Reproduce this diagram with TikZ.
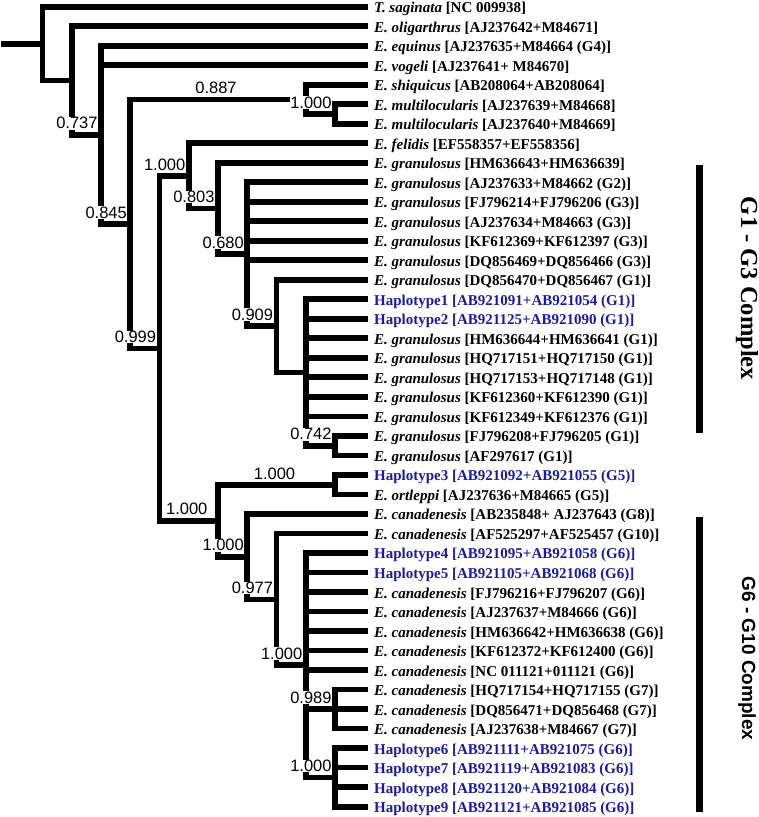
\documentclass[tikz,border=0pt]{standalone}
\usepackage{fontspec}
\setmainfont{Liberation Serif}
\setsansfont{Liberation Sans}
\newfontfamily\groupsans{Liberation Sans}
\usetikzlibrary{calc}
\definecolor{HapBlue}{HTML}{1A1AA6}
\newcommand{\taxon}[2]{\textit{#1} [#2]}
\newcommand{\hap}[2]{\textcolor{HapBlue}{Haplotype#1 [#2]}}
\tikzset{
  branch/.style={line width=5.8pt, line join=miter},
  leaf/.style={anchor=west, inner xsep=6pt, inner ysep=0pt, text height=12pt,
    text depth=0pt, font=\fontsize{15}{18}\selectfont\bfseries},
  support/.style={fill=white, inner sep=0.5pt, font=\sffamily\fontsize{16.5}{18}\selectfont},
  short/.style={anchor=south east, xshift=-2.7pt, yshift=5pt},
  long/.style={anchor=south, xshift=-2pt, yshift=5pt},
  bar/.style={line width=6.5pt},
  group/.style={rotate=-90, inner sep=0pt}
}

\begin{document}
\begin{tikzpicture}[x=1pt, y=-1pt]
  \useasboundingbox (0,0) rectangle (759,817);

  % tips, one row each
  \foreach \lab [count=\i from 0] in {
    {\taxon{T. saginata}{NC 009938}},
    {\taxon{E. oligarthrus}{AJ237642+M84671}},
    {\taxon{E. equinus}{AJ237635+M84664 (G4)}},
    {\taxon{E. vogeli}{AJ237641+ M84670}},
    {\taxon{E. shiquicus}{AB208064+AB208064}},
    {\taxon{E. multilocularis}{AJ237639+M84668}},
    {\taxon{E. multilocularis}{AJ237640+M84669}},
    {\taxon{E. felidis}{EF558357+EF558356}},
    {\taxon{E. granulosus}{HM636643+HM636639}},
    {\taxon{E. granulosus}{AJ237633+M84662 (G2)}},
    {\taxon{E. granulosus}{FJ796214+FJ796206 (G3)}},
    {\taxon{E. granulosus}{AJ237634+M84663 (G3)}},
    {\taxon{E. granulosus}{KF612369+KF612397 (G3)}},
    {\taxon{E. granulosus}{DQ856469+DQ856466 (G3)}},
    {\taxon{E. granulosus}{DQ856470+DQ856467 (G1)}},
    {\hap{1}{AB921091+AB921054 (G1)}},
    {\hap{2}{AB921125+AB921090 (G1)}},
    {\taxon{E. granulosus}{HM636644+HM636641 (G1)}},
    {\taxon{E. granulosus}{HQ717151+HQ717150 (G1)}},
    {\taxon{E. granulosus}{HQ717153+HQ717148 (G1)}},
    {\taxon{E. granulosus}{KF612360+KF612390 (G1)}},
    {\taxon{E. granulosus}{KF612349+KF612376 (G1)}},
    {\taxon{E. granulosus}{FJ796208+FJ796205 (G1)}},
    {\taxon{E. granulosus}{AF297617 (G1)}},
    {\hap{3}{AB921092+AB921055 (G5)}},
    {\taxon{E. ortleppi}{AJ237636+M84665 (G5)}},
    {\taxon{E. canadenesis}{AB235848+ AJ237643 (G8)}},
    {\taxon{E. canadenesis}{AF525297+AF525457 (G10)}},
    {\hap{4}{AB921095+AB921058 (G6)}},
    {\hap{5}{AB921105+AB921068 (G6)}},
    {\taxon{E. canadenesis}{FJ796216+FJ796207 (G6)}},
    {\taxon{E. canadenesis}{AJ237637+M84666 (G6)}},
    {\taxon{E. canadenesis}{HM636642+HM636638 (G6)}},
    {\taxon{E. canadenesis}{KF612372+KF612400 (G6)}},
    {\taxon{E. canadenesis}{NC 011121+011121 (G6)}},
    {\taxon{E. canadenesis}{HQ717154+HQ717155 (G7)}},
    {\taxon{E. canadenesis}{DQ856471+DQ856468 (G7)}},
    {\taxon{E. canadenesis}{AJ237638+M84667 (G7)}},
    {\hap{6}{AB921111+AB921075 (G6)}},
    {\hap{7}{AB921119+AB921083 (G6)}},
    {\hap{8}{AB921120+AB921084 (G6)}},
    {\hap{9}{AB921121+AB921085 (G6)}}}
    \node[leaf] (t\i) at (368, {6.7+19.51*\i}) {\lab};

  % internal nodes (y = middle of first and last child)
  \coordinate (stub) at (1,43.6);
  \coordinate (root) at (42.5,43.6);
  \coordinate (echi) at (71.75,80.5);
  \coordinate (eqv)  at (101,134.8);
  \coordinate (crn)  at (130.25,223.9);
  \coordinate (shq)  at (305.75,99.4);
  \coordinate (mlt)  at (335,114);
  \coordinate (gc)   at (159.5,348.4);
  \coordinate (felg) at (188.75,175.9);
  \coordinate (g0)   at (218,208.5);
  \coordinate (g13)  at (247.25,254.2);
  \coordinate (g1a)  at (276.5,326.2);
  \coordinate (g1b)  at (305.75,372.5);
  \coordinate (g1c)  at (335,445.7);
  \coordinate (cco)  at (218,520.8);
  \coordinate (ort)  at (335,484.9);
  \coordinate (cnd)  at (247.25,556.7);
  \coordinate (c10)  at (276.5,599.4);
  \coordinate (c6)   at (305.75,665.2);
  \coordinate (c7)   at (335,709.1);
  \coordinate (c6h)  at (335,777.4);

  % branches
  \draw[branch] (stub) -- (root);
  \foreach \p/\kids in {root/{t0.west,echi}, echi/{t1.west,eqv},
      eqv/{t2.west,t3.west,crn}, crn/{shq,gc}, shq/{t4.west,mlt},
      mlt/{t5.west,t6.west}, gc/{felg,cco}, felg/{t7.west,g0},
      g0/{t8.west,g13}, g13/{t9.west,t10.west,t11.west,t12.west,t13.west,g1a},
      g1a/{t14.west,g1b},
      g1b/{t15.west,t16.west,t17.west,t18.west,t19.west,t20.west,t21.west,g1c},
      g1c/{t22.west,t23.west}, cco/{ort,cnd}, ort/{t24.west,t25.west},
      cnd/{t26.west,c10}, c10/{t27.west,c6},
      c6/{t28.west,t29.west,t30.west,t31.west,t32.west,t33.west,t34.west,c7,c6h},
      c7/{t35.west,t36.west,t37.west},
      c6h/{t38.west,t39.west,t40.west,t41.west}}
    \foreach \k in \kids
      \draw[branch] (\p) |- (\k);

  % support values
  \node[support, short] (bs1) at (eqv) {0.737};
  \node[support, short] (bs2) at (crn) {0.845};
  \node[support, long] (bs3) at ($(crn |- shq)!.5!(shq)$) {0.887};
  \node[support, short] (bs4) at (mlt) {1.000};
  \node[support, short] (bs5) at (gc) {0.999};
  \node[support, short] (bs6) at (felg) {1.000};
  \node[support, short] (bs7) at (g0) {0.803};
  \node[support, short] (bs8) at (g13) {0.680};
  \node[support, short] (bs9) at (g1a) {0.909};
  \node[support, short] (bs10) at (g1c) {0.742};
  \node[support, long] (bs11) at ($(gc |- cco)!.5!(cco)$) {1.000};
  \node[support, long] (bs12) at ($(cco |- ort)!.5!(ort)$) {1.000};
  \node[support, short] (bs13) at (cnd) {1.000};
  \node[support, short] (bs14) at (c10) {0.977};
  \node[support, short] (bs15) at (c6) {1.000};
  \node[support, short] (bs16) at (c7) {0.989};
  \node[support, short] (bs17) at (c6h) {1.000};

  % complexes
  \coordinate (ga) at (699.5,165);
  \coordinate (gb) at (699.5,433);
  \coordinate (gc2) at (699.5,517);
  \coordinate (gd) at (699.5,812);
  \draw[bar] (ga) -- (gb);
  \draw[bar] (gc2) -- (gd);
  \node[group, font=\fontsize{24.5}{26}\selectfont\bfseries] (cplx13) at (747,288.5) {G1 - G3 Complex};
  \node[group, font=\groupsans\fontsize{19}{21}\selectfont\bfseries] (cplx610) at (747,658.5) {G6 - G10 Complex};
\end{tikzpicture}
\end{document}
